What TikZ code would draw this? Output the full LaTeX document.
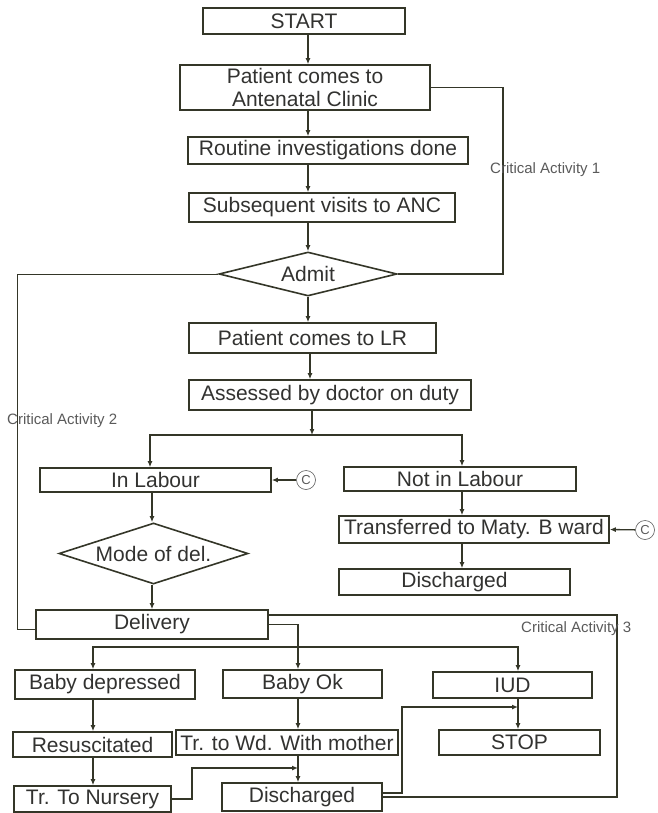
\documentclass[tikz,border=0pt]{standalone}
\usepackage{fontspec}
\setmainfont{Liberation Sans}
\usetikzlibrary{shapes.geometric, arrows.meta, math, calc}

\definecolor{lineC}{RGB}{52,54,40}
\definecolor{textC}{RGB}{50,50,48}
\definecolor{noteC}{RGB}{90,90,90}

\begin{document}
\begin{tikzpicture}[x=1pt, y=-1pt]
	\tikzmath{
		\mainX  = 308; %top column
		\labX   = 152; %in labour column
		\notX   = 462; %not in labour column
		\depX   = 93;  %baby depressed column
		\okX    = 298; %baby ok column
		\iudX   = 518; %iud column
		\boxFs  = 21;  %box font size
	}
	\tikzstyle{Box} = [
		rectangle,
		draw=lineC,
		line width=1.6pt,
		text=textC,
		inner sep=0pt,
		align=center,
		font=\fontsize{\boxFs}{23}\selectfont
	]
	\tikzstyle{DiamNode} = [Box, diamond]
	\tikzstyle{CircNode} = [circle, draw=noteC, line width=0.6pt, text=noteC, inner sep=0pt,
		minimum size=19pt, font=\fontsize{13}{14}\selectfont]
	\tikzstyle{NoteNode} = [text=noteC, inner sep=0pt, anchor=west, font=\fontsize{15}{17}\selectfont]
	\tikzstyle{Flow} = [->, >={Latex[length=6pt,width=5pt]}, draw=lineC, line width=1.3pt]
	\tikzstyle{Loop} = [draw=lineC, line width=1.3pt]

	\useasboundingbox (0,0) rectangle (657,813);

	%%%%%%%%%%%%%%%%%%%%%%%%%%===---ANTENATAL---===%%%%%%%%%%%%%%%%%%%%%%%%%%
	\node (start)   [Box, minimum width=202pt, minimum height=26pt] at (304,21)    {START};
	\node (anc)     [Box, minimum width=250pt, minimum height=45pt] at (305,87.5)  {Patient comes to\\Antenatal Clinic};
	\node (routine) [Box, minimum width=280pt, minimum height=27pt] at (328,150.5) {Routine investigations done};
	\node (subseq)  [Box, minimum width=266pt, minimum height=29pt] at (322,207.5) {Subsequent visits to ANC};
	\node (admit)   [DiamNode, aspect=4, minimum width=178pt, minimum height=44pt] at (308,274) {Admit};
	\coordinate (mainCol) at (\mainX,0);
	\draw[Flow] (start.south -| mainCol)   -- (anc.north -| mainCol);
	\draw[Flow] (anc.south -| mainCol)     -- (routine.north -| mainCol);
	\draw[Flow] (routine.south -| mainCol) -- (subseq.north -| mainCol);
	\draw[Flow] (subseq.south -| mainCol)  -- (admit.north);

	% critical activity 1
	\coordinate (ca1) at (503,0);
	\draw[Loop] (anc.east) -| (ca1 |- admit.east) -- (admit.east);
	\node (note1) [NoteNode] at (490,170) {Critical Activity 1};

	%%%%%%%%%%%%%%%%%%%%%%%%%%===---LABOUR ROOM---===%%%%%%%%%%%%%%%%%%%%%%%%%%
	\node (lr)     [Box, minimum width=247pt, minimum height=30pt] at (312.5,338) {Patient comes to LR};
	\node (assess) [Box, minimum width=282pt, minimum height=30pt] at (330,395)   {Assessed by doctor on duty};
	\draw[Flow] (admit.south) -- (lr.north -| admit.south);
	\draw[Flow] (lr.south -| 310,0) -- (assess.north -| 310,0);
	\coordinate (split) at (312,435);
	\draw[Flow] (assess.south -| split) -- (split);

	\node (inlab)  [Box, minimum width=231pt, minimum height=24pt] at (155.5,480) {In Labour};
	\node (notlab) [Box, minimum width=232pt, minimum height=24pt] at (460,479)   {Not in Labour};
	\draw[Flow] (split) -| (inlab.north -| 150,0);
	\draw[Flow] (split) -| (notlab.north -| \notX,0);
	\node (c1) [CircNode] at (306,480) {C};
	\draw[Flow] (c1) -- (inlab.east);

	\node (transf) [Box, minimum width=270pt, minimum height=27pt] at (474,529.5) {Transferred to Maty. B ward};
	\node (dischR) [Box, minimum width=231pt, minimum height=26pt] at (454.5,582) {Discharged};
	\node (c2) [CircNode] at (645,530) {C};
	\draw[Flow] (c2) -- (transf.east);
	\draw[Flow] (notlab.south -| \notX,0) -- (transf.north -| \notX,0);
	\draw[Flow] (transf.south -| \notX,0) -- (dischR.north -| \notX,0);

	\node (mode)     [DiamNode, aspect=3.1, minimum width=189pt, minimum height=61pt] at (153.5,553.5) {Mode of del.};
	\node (delivery) [Box, minimum width=232pt, minimum height=29pt] at (152,624.5) {Delivery};
	\draw[Flow] (inlab.south -| \labX,0) -- (mode.north -| \labX,0);
	\draw[Flow] (mode.south -| \labX,0)  -- (delivery.north -| \labX,0);

	% critical activity 2
	\coordinate (ca2) at (17,629);
	\draw[Loop, line width=0.8pt] (admit.west) -| (ca2) -- (ca2 -| delivery.west);
	\node (note2) [NoteNode] at (7,421) {Critical Activity 2};

	%%%%%%%%%%%%%%%%%%%%%%%%%%===---BABY---===%%%%%%%%%%%%%%%%%%%%%%%%%%
	\node (babydep) [Box, minimum width=180pt, minimum height=29pt] at (105,684.5)   {Baby depressed};
	\node (babyok)  [Box, minimum width=159pt, minimum height=28pt] at (302.5,684)   {Baby Ok};
	\node (iud)     [Box, minimum width=159pt, minimum height=26pt] at (512.5,685)   {IUD};
	\node (resus)   [Box, minimum width=159pt, minimum height=25pt] at (92.5,744.5)  {Resuscitated};
	\node (trwd)    [Box, minimum width=222pt, minimum height=25pt] at (287,742.5)   {Tr. to Wd. With mother};
	\node (stop)    [Box, minimum width=161pt, minimum height=25pt] at (519.5,742.5) {STOP};
	\node (nursery) [Box, minimum width=157pt, minimum height=26pt] at (92.5,799)    {Tr. To Nursery};
	\node (dischB)  [Box, minimum width=160pt, minimum height=28pt] at (302,797)     {Discharged};

	\draw[Flow] (delivery.east) -| (babyok.north -| \okX,0);
	\coordinate (bus) at (\okX,647);
	\draw[Flow] (bus) -| (babydep.north -| \depX,0);
	\draw[Flow] (bus) -| (iud.north -| \iudX,0);

	\draw[Flow] (babydep.south -| \depX,0) -- (resus.north -| \depX,0);
	\draw[Flow] (resus.south -| \depX,0)   -- (nursery.north -| \depX,0);
	\draw[Flow] (babyok.south -| \okX,0)   -- (trwd.north -| \okX,0);
	\draw[Flow] (trwd.south -| \okX,0)     -- (dischB.north -| \okX,0);
	\draw[Flow] (iud.south -| \iudX,0)     -- (stop.north -| \iudX,0);

	\coordinate (nj)  at (192,768);
	\draw[Flow] (nursery.east) -| (nj) -- (nj -| \okX,0);
	\coordinate (dj)  at (402,793);
	\coordinate (sj)  at (\iudX,707);
	\draw[Flow] (dischB.east |- dj) -- (dj) |- (sj);

	% critical activity 3
	\coordinate (ca3)  at (617,615);
	\coordinate (ca3b) at (617,797);
	\draw[Loop] (delivery.east |- ca3) -- (ca3) -- (ca3b) -- (ca3b -| dischB.east);
	\node (note3) [NoteNode] at (521,629) {Critical Activity 3};
\end{tikzpicture}
\end{document}
